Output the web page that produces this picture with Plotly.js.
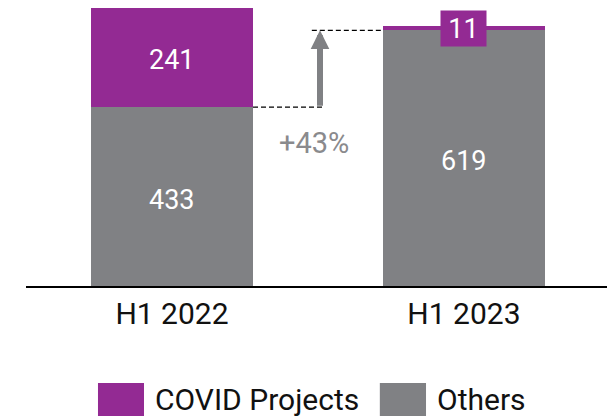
<!DOCTYPE html>
<html>
<head>
<meta charset="utf-8">
<script src="https://cdn.plot.ly/plotly-3.0.1.min.js"></script>
<style>html,body{margin:0;padding:0;background:#fff;}#chart{width:607px;height:419px;}</style>
</head>
<body>
<div id="chart"></div>
<script>
const categories = ["H1 2022", "H1 2023"];
const seriesNames = ["COVID Projects", "Others"];
const covid = [241, 11];
const others = [433, 619];
const growthLabel = "+43%";

const PURPLE = "#932a93";
const GRAY = "#808184";
const FONT = "Roboto, 'DejaVu Sans', sans-serif";
const BW = 0.555;

const traceOthers = {
  type: "bar", x: categories, y: others, name: seriesNames[1],
  marker: {color: GRAY}, width: BW, textposition: "none", hoverinfo: "none"
};
const traceCovid = {
  type: "bar", x: categories, y: covid, name: seriesNames[0],
  marker: {color: PURPLE}, width: BW, textposition: "none", hoverinfo: "none"
};

const labelFont = {family: FONT, size: 27, color: "#fff"};
const valueLabels = [];
categories.forEach((c, i) => {
  valueLabels.push({x: c, y: others[i] / 2, xref: "x", yref: "y", text: String(others[i]),
    showarrow: false, yshift: -3, font: labelFont});
  if (i === 0) {
    valueLabels.push({x: c, y: others[i] + covid[i] / 2, xref: "x", yref: "y", text: String(covid[i]),
      showarrow: false, yshift: -3, font: labelFont});
  } else {
    valueLabels.push({x: c, y: others[i] + covid[i] / 2, xref: "x", yref: "y", text: String(covid[i]),
      showarrow: false, bgcolor: PURPLE, width: 45, height: 35, borderpad: 0, font: labelFont});
  }
});

const arrowX = 0.507;
const layout = {
  width: 607, height: 419,
  margin: {l: 26, r: 0, t: 0, b: 133},
  barmode: "stack",
  showlegend: false,
  paper_bgcolor: "#fff", plot_bgcolor: "#fff",
  xaxis: {
    range: [-0.5, 1.49], showline: true, linecolor: "#000", linewidth: 2,
    ticks: "", tickfont: {family: FONT, size: 30, color: "#111"}, fixedrange: true,
    showgrid: false, zeroline: false
  },
  yaxis: {range: [0, 692.4], visible: false, showgrid: false, zeroline: false, fixedrange: true},
  shapes: [
    {type: "line", xref: "x", yref: "y", x0: BW / 2, x1: 0.524, y0: others[0], y1: others[0],
     line: {color: "#000", width: 1.2, dash: "5px,3px"}},
    {type: "line", xref: "x", yref: "y", x0: 0.479, x1: 1 - BW / 2, y0: others[1], y1: others[1],
     line: {color: "#000", width: 1.2, dash: "5px,3px"}},
    {type: "rect", xref: "paper", yref: "paper", x0: 0.1239, x1: 0.2031, y0: -0.339, y1: -0.4545,
     fillcolor: PURPLE, line: {width: 0}},
    {type: "rect", xref: "paper", yref: "paper", x0: 0.609, x1: 0.6885, y0: -0.339, y1: -0.4545,
     fillcolor: GRAY, line: {width: 0}}
  ],
  annotations: [
    {x: arrowX, y: others[1], ax: arrowX, ay: others[0], xref: "x", yref: "y", axref: "x", ayref: "y",
     text: "", showarrow: true, arrowhead: 2, arrowsize: 0.62, arrowwidth: 6, arrowcolor: GRAY, standoff: 0},
    {x: arrowX - 0.02, y: (286 - 143) / 286, xref: "x", yref: "paper", yanchor: "middle", xanchor: "center",
     text: growthLabel, showarrow: false, font: {family: FONT, size: 29, color: "#8a8a8d"}},
    {x: 0.2186, y: -0.397, xref: "paper", yref: "paper", xanchor: "left", yanchor: "middle",
     text: seriesNames[0], showarrow: false, font: {family: FONT, size: 30, color: "#111"}},
    {x: 0.704, y: -0.397, xref: "paper", yref: "paper", xanchor: "left", yanchor: "middle",
     text: seriesNames[1], showarrow: false, font: {family: FONT, size: 30, color: "#111"}}
  ].concat(valueLabels)
};

Plotly.newPlot("chart", [traceOthers, traceCovid], layout, {displayModeBar: false, staticPlot: true});
</script>
</body>
</html>
